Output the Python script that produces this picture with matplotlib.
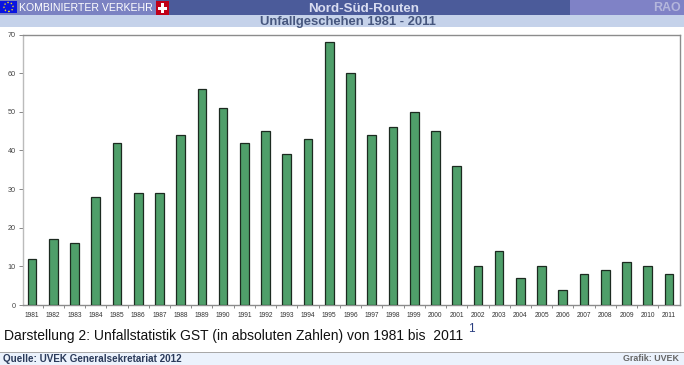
import matplotlib
matplotlib.use("Agg")
import matplotlib.pyplot as plt
from matplotlib.patches import Rectangle, Ellipse

years = list(range(1981, 2012))
accidents = [12, 17, 16, 28, 42, 29, 29, 44, 56, 51, 42, 45, 39, 43, 68, 60,
             44, 46, 50, 45, 36, 10, 14, 7, 10, 4, 8, 9, 11, 10, 8]
yTicks = list(range(0, 80, 10))

W = 684
H = 365

plt.rcParams["font.family"] = ["Liberation Sans", "DejaVu Sans"]


def box(x, y, w, h, color, zorder=1):
    # pixel coordinates, y counted from the top of the image
    fig.add_artist(Rectangle((x / W, 1 - (y + h) / H), w / W, h / H, color=color, lw=0, zorder=zorder))


def label(x, y, s, **kw):
    fig.text(x / W, 1 - y / H, s, **kw)


fig = plt.figure(figsize=(W / 100, H / 100), dpi=100, facecolor="white")

# header bands
box(0, 0, W, 15, "#4b5b9a")
box(0, 0, 156, 15, "#7b82c2")
box(570, 0, 114, 15, "#7f82c6")
box(0, 15, W, 12, "#c5d2ea")

# logos
box(0, 1, 17, 12, "#0a14e0", 2)
box(156, 1, 13, 14, "#c00018", 2)
box(161, 3, 3, 10, "white", 3)
box(158, 6.5, 9, 3, "white", 3)
fig.add_artist(Ellipse((8.5 / W, 1 - 7 / H), 9 / W, 9 / H, fill=False,
                       edgecolor="#e8d820", lw=1.0, ls=(0, (1, 1.5)), zorder=3))

label(19, 8, "KOMBINIERTER VERKEHR", color="white", fontsize=7.6, fontweight="normal", va="center", ha="left", zorder=4)
label(363.5, 8.5, "Nord-Süd-Routen", color="#d8dcf0", fontsize=9.6, va="center", ha="center", fontweight="bold", zorder=4)
label(667, 8, "RAO", color="#b4b6dc", fontsize=9, va="center", ha="center", fontweight="bold", zorder=4)
label(348, 22, "Unfallgeschehen 1981 - 2011", color="#46567e", fontsize=9.4, va="center", ha="center",
      fontweight="bold", zorder=4)

# main chart
ax = fig.add_axes([22.5 / W, 1 - 305 / H, (679.5 - 22.5) / W, (305 - 34.5) / H])
ax.bar(years, accidents, width=0.41, color="#4f9f6a", edgecolor="#1c2a20", linewidth=0.9, zorder=3)
ax.set_xlim(1980.553, 2011.495)
ax.set_ylim(0, 70)
ax.set_yticks(yTicks)
ax.set_xticks(years)
ax.set_xticklabels(years)
ax.set_xticks([y + 0.5 for y in years[:-1]], minor=True)
ax.tick_params(axis="y", labelsize=5.2, labelcolor="#444444", length=3, width=0.7, color="#888888", pad=2)
ax.tick_params(axis="x", which="major", labelsize=4.8, labelcolor="#333333", length=0, pad=5)
ax.tick_params(axis="x", which="minor", length=2, width=0.7, color="#888888")
for s in ax.spines.values():
    s.set_color("#8c8c8c")
    s.set_linewidth(1.0)
ax.spines["left"].set_color("#bbbbbb")

# caption
label(4, 336, "Darstellung 2: Unfallstatistik GST (in absoluten Zahlen) von 1981 bis  2011", color="#111111",
      fontsize=10, va="center", ha="left")
label(468, 329, "1", color="#2a3f80", fontsize=8.5, va="center", ha="left")

# footer
box(0, 352, W, 13, "#ebf2fc")
box(0, 351.5, W, 1, "#a8a8a8", 2)
label(3, 358.5, "Quelle: UVEK Generalsekretariat 2012", color="#2a3a5a", fontsize=7.1, fontweight="bold",
      va="center", ha="left", zorder=4)
label(679, 358.5, "Grafik: UVEK", color="#666666", fontsize=6.4, fontweight="bold", va="center", ha="right", zorder=4)

fig.savefig("out.png", dpi=100)
